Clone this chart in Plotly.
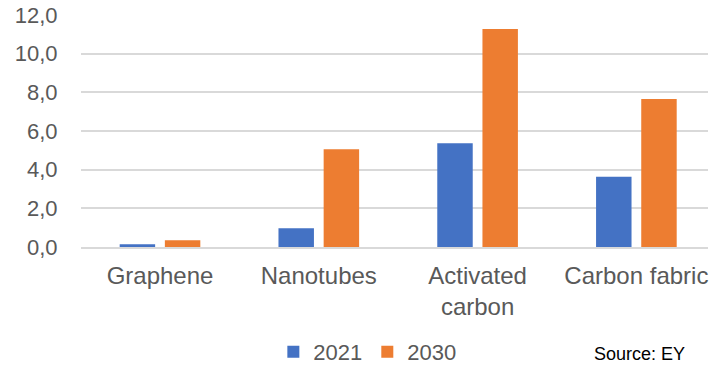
import plotly.graph_objects as go

categories = ["Graphene", "Nanotubes", "Activated<br>carbon", "Carbon fabric"]
series_names = ["2021", "2030"]
values_2021 = [0.14, 0.97, 5.36, 3.63]
values_2030 = [0.35, 5.05, 11.28, 7.65]
colors = ["#4472C4", "#ED7D31"]
y_ticks = [0, 2, 4, 6, 8, 10, 12]
y_tick_labels = ["0,0", "2,0", "4,0", "6,0", "8,0", "10,0", "12,0"]

W, H = 710, 365
L, R, T, B = 81, 2, 15, 118
pw, ph = W - L - R, H - T - B

def px_x(x):
    return (x - L) / pw

def px_y(y):
    return (H - B - y) / ph

fig = go.Figure()
for name, vals, col in zip(series_names, [values_2021, values_2030], colors):
    fig.add_trace(go.Bar(x=categories, y=vals, name=name, marker_color=col,
                         marker_line_width=0))

fig.update_layout(
    width=W, height=H,
    margin=dict(l=L, r=R, t=T, b=B, autoexpand=False),
    paper_bgcolor="white", plot_bgcolor="white",
    barmode="group", bargap=0.431, bargroupgap=0.215,
    font=dict(family="Liberation Sans, Arial, sans-serif", size=24, color="#595959"),
    legend=dict(orientation="h", xref="container", yref="container",
                x=0.385, xanchor="left", y=13/365, yanchor="middle",
                font=dict(size=22, color="#595959"), itemwidth=30,
                traceorder="normal"),
    showlegend=True,
)
fig.update_yaxes(range=[0, 12], tickvals=y_ticks, ticktext=y_tick_labels,
                 showgrid=True, gridcolor="#D9D9D9", gridwidth=1.5,
                 zeroline=False, showline=False, ticks="outside", ticklen=18,
                 tickcolor="rgba(0,0,0,0)", tickfont=dict(size=22, color="#595959"),
                 automargin=False)
fig.update_xaxes(range=[-0.4975, 3.451],
                 showline=True, linecolor="#D9D9D9", linewidth=1.5,
                 ticks="outside", ticklen=6, tickcolor="rgba(0,0,0,0)",
                 tickfont=dict(size=24, color="#595959"), automargin=False)
fig.add_annotation(text="Source: EY", xref="paper", yref="paper",
                   x=px_x(687), xanchor="right", y=px_y(354), yanchor="middle",
                   showarrow=False, font=dict(size=18, color="#000000"))
fig.write_html("out.html")
